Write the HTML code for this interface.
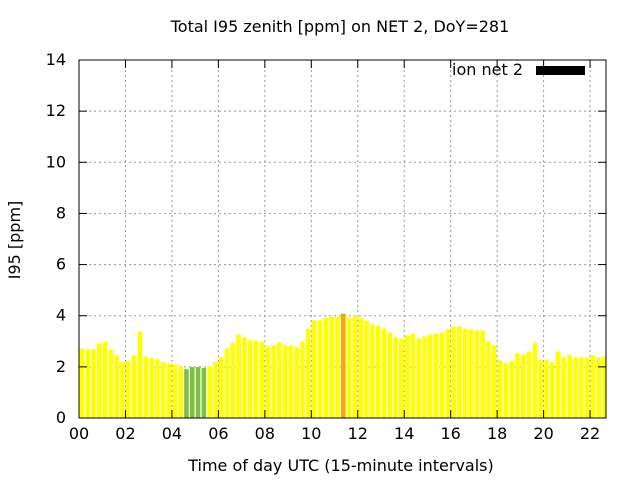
<!DOCTYPE html>
<html><head><meta charset="utf-8"><style>
body{margin:0;background:#fff;}
svg{display:block;font-family:"DejaVu Sans","Liberation Sans",sans-serif;}
</style></head><body>
<svg id="chart" width="640" height="480">
<defs><clipPath id="pc"><rect x="79" y="60" width="527" height="358"/></clipPath></defs>
<text x="340" y="32" text-anchor="middle" font-size="16">Total I95 zenith [ppm] on NET 2, DoY=281</text>
<text x="341" y="471" text-anchor="middle" font-size="16">Time of day UTC (15-minute intervals)</text>
<text transform="translate(20,240) rotate(-90)" text-anchor="middle" font-size="16">I95 [ppm]</text>
<g id="grid"></g><g id="bars" clip-path="url(#pc)"></g><g id="axes"></g>
<text x="523" y="75" text-anchor="end" font-size="16">ion net 2</text>
<rect x="536" y="66" width="49" height="9" fill="#000"/>
</svg>
<script>
const values=[2.71,2.68,2.68,2.92,2.99,2.68,2.45,2.18,2.22,2.45,3.38,2.41,2.34,2.30,2.18,2.14,2.10,2.03,1.91,1.99,1.99,1.96,2.03,2.18,2.37,2.72,2.95,3.26,3.15,3.03,3.03,
2.99,2.80,2.84,2.95,2.84,2.84,2.76,2.99,3.50,3.81,3.81,3.92,3.96,3.96,4.08,3.92,4.0,3.92,3.81,3.65,3.61,3.50,3.34,3.15,3.11,3.23,3.30,3.11,3.19,3.26,
3.30,3.34,3.46,3.57,3.57,3.50,3.46,3.42,3.42,2.99,2.84,2.26,2.14,2.22,2.53,2.49,2.61,2.95,2.26,2.26,2.18,2.61,2.37,2.45,2.37,2.37,2.37,2.45,2.37,2.41,2.41];
const yTicks=[0,2,4,6,8,10,12,14];
const xTicks=["00","02","04","06","08","10","12","14","16","18","20","22"];
const L=79,R=606,T=60,B=418,HW=23.23;
const ys=v=>B-(v/14)*(B-T);
const xs=h=>L+h*HW;
const NS="http://www.w3.org/2000/svg";
function mk(tag,attrs,parent){const e=document.createElementNS(NS,tag);for(const k in attrs)e.setAttribute(k,attrs[k]);parent.appendChild(e);return e;}
const grid=document.getElementById('grid'),bars=document.getElementById('bars'),axes=document.getElementById('axes');
yTicks.forEach(v=>{const y=ys(v);
 if(v>0&&v<14){const g=mk('line',{x1:L,x2:R,y1:y,y2:y,stroke:'#999','stroke-dasharray':'2,3'},grid);
 
 }
 mk('line',{x1:L,x2:L+8,y1:y,y2:y,stroke:'#000'},axes);
 mk('line',{x1:R-8,x2:R,y1:y,y2:y,stroke:'#000'},axes);
 const t=mk('text',{x:L-13,y:y+5,'text-anchor':'end','font-size':16},axes);t.textContent=v;
 
 
});
xTicks.forEach((lab,i)=>{const x=xs(i*2);
 if(i>0){const g=mk('line',{x1:x,x2:x,y1:T,y2:B,stroke:'#999','stroke-dasharray':'2,3'},grid);
 
 }
 mk('line',{x1:x,x2:x,y1:B,y2:B-8,stroke:'#000'},axes);
 mk('line',{x1:x,x2:x,y1:T,y2:T+8,stroke:'#000'},axes);
 const t=mk('text',{x:x,y:B+21,'text-anchor':'middle','font-size':16},axes);t.textContent=lab;
 
 
});
const bw=HW/4;
values.forEach((v,i)=>{const x=xs(i/4)+0.6;const y=ys(v);
 const c=v<2?'#80c040':(v>4?'#ffa500':'#ffff00');
 const r=mk('rect',{x:x,y:y,width:bw-1.2,height:B-y,fill:c},bars);
 
 
});
const f=mk('rect',{x:L,y:T,width:R-L,height:B-T,fill:'none',stroke:'#000','stroke-width':1},axes);


</script>
</body></html>
